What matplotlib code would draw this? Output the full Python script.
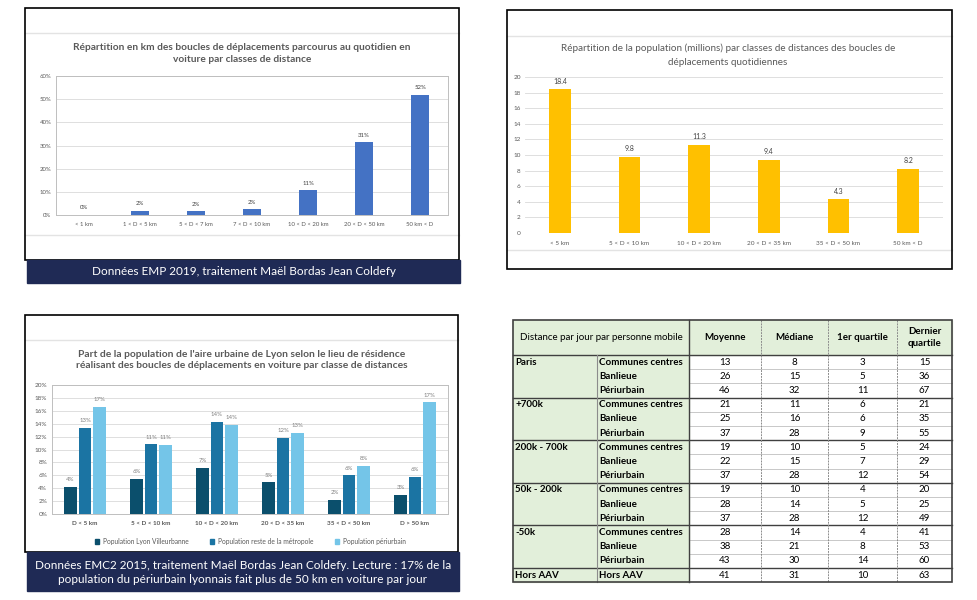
import matplotlib
matplotlib.use("Agg")
import matplotlib.pyplot as plt
from matplotlib.patches import Rectangle, Patch
import numpy as np

plt.rcParams['font.family'] = ['Lato', 'DejaVu Sans']

# ---- données graphique 1 (EMP 2019, % des boucles en voiture)
cat1 = ['< 1 km', '1 < D < 5 km', '5 < D < 7 km', '7 < D < 10 km',
        '10 < D < 20 km', '20 < D < 50 km', '50 km < D']
val1 = [0.2, 1.8, 1.6, 2.4, 10.6, 31.3, 52.0]

# ---- données graphique 2 (population, millions)
cat2 = ['< 5 km', '5 < D < 10 km', '10 < D < 20 km', '20 < D < 35 km',
        '35 < D < 50 km', '50 km < D']
val2 = [18.4, 9.8, 11.3, 9.4, 4.3, 8.2]

# ---- données graphique 3 (EMC2 Lyon, %)
cat3 = ['D < 5 km', '5 < D < 10 km', '10 < D < 20 km', '20 < D < 35 km',
        '35 < D < 50 km', 'D > 50 km']
series3 = ['Population Lyon Villeurbanne', 'Population reste de la métropole',
           'Population périurbain']
lyon_vill = [4.2, 5.5, 7.2, 4.9, 2.2, 3.0]
reste_metro = [13.4, 10.8, 14.3, 11.8, 6.0, 5.8]
periurbain = [16.6, 10.7, 13.8, 12.6, 7.5, 17.3]

# ---- données tableau (km par jour par personne mobile)
groupes = ['Paris', '+700k', '200k - 700k', '50k - 200k', '-50k', 'Hors AAV']
zones = ['Communes centres', 'Banlieue', 'Périurbain']
col_noms = ['Moyenne', 'Médiane', '1er quartile', 'Dernier\nquartile']
moyenne = [13, 26, 46, 21, 25, 37, 19, 22, 37, 19, 28, 37, 28, 38, 43, 41]
mediane = [8, 15, 32, 11, 16, 28, 10, 15, 28, 10, 14, 28, 14, 21, 30, 31]
quartile1 = [3, 5, 11, 6, 6, 9, 5, 7, 12, 4, 5, 12, 4, 8, 14, 10]
quartile4 = [15, 36, 67, 21, 35, 55, 24, 29, 54, 20, 25, 49, 41, 53, 60, 63]

W, H = 978, 600
NAVY = '#1f2a55'
GRIS = '#595959'


def box(x0, y0, x1, y1):
    return [x0 / W, 1 - y1 / H, (x1 - x0) / W, (y1 - y0) / H]


fig = plt.figure(figsize=(W / 100, H / 100), dpi=100)
bg = fig.add_axes([0, 0, 1, 1])
bg.set_xlim(0, W)
bg.set_ylim(H, 0)
bg.axis('off')


def cadre(x0, y0, x1, y1, lignes):
    bg.add_patch(Rectangle((x0, y0), x1 - x0, y1 - y0, fill=False,
                           ec='black', lw=1.2, zorder=3))
    for y in lignes:
        bg.plot([x0, x1], [y, y], color='#e3e3e3', lw=1, zorder=2)


def style_axe(ax, spines=True):
    ax.tick_params(length=0, labelsize=4.3, labelcolor=GRIS)
    ax.set_axisbelow(True)
    ax.grid(axis='y', color='#d9d9d9', lw=0.6)
    for s in ax.spines.values():
        s.set_visible(spines)
        s.set_color('#bfbfbf')
        s.set_linewidth(0.7)


# ======= graphique 1
cadre(25, 8, 459, 260, [33, 235])
bg.add_patch(Rectangle((27, 260), 433, 23, color=NAVY, zorder=3))
bg.text(243.5, 271.5, 'Données EMP 2019, traitement Maël Bordas Jean Coldefy',
        color='white', fontsize=8.5, ha='center', va='center', zorder=4)
bg.text(242, 53.5, 'Répartition en km des boucles de déplacements parcourus au quotidien en\n'
        'voiture par classes de distance', color=GRIS, fontsize=7.3, fontweight='bold',
        ha='center', va='center', linespacing=1.3)

ax1 = fig.add_axes(box(56, 76, 448, 215))
x1 = np.arange(len(cat1))
ax1.bar(x1, val1, width=0.32, color='#4472c4')
ax1.set_xlim(-0.5, len(cat1) - 0.5)
ax1.set_ylim(0, 60)
ax1.set_yticks(range(0, 61, 10))
ax1.set_yticklabels([f'{v}%' for v in range(0, 61, 10)])
ax1.set_xticks(x1)
ax1.set_xticklabels(cat1)
style_axe(ax1)
ax1.tick_params(axis='x', pad=5)
for xi, v in zip(x1, val1):
    ax1.annotate(f'{v:.0f}%', (xi, v), xytext=(0, 4), textcoords='offset points',
                 ha='center', fontsize=4.3, color='#404040')

# ======= graphique 2
cadre(507, 10, 952, 269, [36, 250])
bg.text(728, 55.5, 'Répartition de la population (millions) par classes de distances des boucles de\n'
        'déplacements quotidiennes', color=GRIS, fontsize=7.1,
        ha='center', va='center', linespacing=1.75)

ax2 = fig.add_axes(box(525, 77, 943, 233))
x2 = np.arange(len(cat2))
ax2.bar(x2, val2, width=0.31, color='#ffc000')
ax2.set_xlim(-0.5, len(cat2) - 0.5)
ax2.set_ylim(0, 20)
ax2.set_yticks(range(0, 21, 2))
ax2.set_xticks(x2)
ax2.set_xticklabels(cat2)
style_axe(ax2, spines=False)
ax2.tick_params(axis='y', pad=3, labelsize=4.6)
ax2.tick_params(axis='x', pad=6, labelsize=4.6)
for xi, v in zip(x2, val2):
    ax2.annotate(f'{v:.1f}', (xi, v), xytext=(0, 4), textcoords='offset points',
                 ha='center', fontsize=5, color='#404040')

# ======= graphique 3
cadre(25, 315, 458, 552, [340])
bg.add_patch(Rectangle((27, 552), 432, 39, color=NAVY, zorder=3))
bg.text(243, 572.5, 'Données EMC2 2015, traitement Maël Bordas Jean Coldefy. Lecture : 17% de la\n'
        'population du périurbain lyonnais fait plus de 50 km en voiture par jour',
        color='white', fontsize=8.45, ha='center', va='center', linespacing=1.3, zorder=4)
bg.text(242, 360, "Part de la population de l'aire urbaine de Lyon selon le lieu de résidence\n"
        'réalisant des boucles de déplacements en voiture par classe de distances',
        color=GRIS, fontsize=7.4, fontweight='bold', ha='center', va='center', linespacing=1.4)

ax3 = fig.add_axes(box(52, 385, 448, 514))
x3 = np.arange(len(cat3))
couleurs3 = ['#0b4f6c', '#1b74a3', '#74c5e8']
bw = 0.19
for k, (serie, vals) in enumerate(zip(series3, [lyon_vill, reste_metro, periurbain])):
    xs = x3 + (k - 1) * (bw + 0.03)
    ax3.bar(xs, vals, width=bw, color=couleurs3[k], label=serie)
    for xi, v in zip(xs, vals):
        ax3.annotate(f'{v:.0f}%', (xi, v), xytext=(0, 4), textcoords='offset points',
                     ha='center', fontsize=4.3, color='#7f7f7f')
ax3.set_xlim(-0.5, len(cat3) - 0.5)
ax3.set_ylim(0, 20)
ax3.set_yticks(range(0, 21, 2))
ax3.set_yticklabels([f'{v}%' for v in range(0, 21, 2)])
ax3.set_xticks(x3)
ax3.set_xticklabels(cat3, fontweight='bold')
style_axe(ax3)
ax3.tick_params(axis='x', pad=5, labelsize=4.6)
ax3.tick_params(axis='y', labelsize=4.6)
handles = [Patch(color=c) for c in couleurs3]
ax3.legend(handles, series3, loc='upper center', bbox_to_anchor=(0.5, -0.14), ncol=3,
           frameon=False, fontsize=4.8, handlelength=0.7, handleheight=0.7,
           handletextpad=0.5, columnspacing=3.2, labelcolor=GRIS)

# ======= tableau
xs_col = [513, 597, 689, 761, 828, 897, 952]
y_haut, y_entete, y_bas = 320, 355, 582
n_lignes = len(moyenne)
h_ligne = 14.2
tops = [y_entete + i * h_ligne for i in range(n_lignes)] + [y_bas]
VERT = '#e2efda'
FONCE = '#404040'

bg.add_patch(Rectangle((xs_col[0], y_haut), xs_col[-1] - xs_col[0], y_entete - y_haut,
                       color=VERT, zorder=1))
bg.add_patch(Rectangle((xs_col[0], y_entete), xs_col[2] - xs_col[0], y_bas - y_entete,
                       color=VERT, zorder=1))
# lignes fines à l'intérieur des groupes
for i in range(1, n_lignes):
    if i % 3 != 0:
        bg.plot([xs_col[2], xs_col[-1]], [tops[i], tops[i]], color='#c8c8c8', lw=0.7, zorder=2)
# séparations de groupes
for i in range(0, n_lignes, 3):
    bg.plot([xs_col[0], xs_col[-1]], [tops[i], tops[i]], color=FONCE, lw=1, zorder=3)
# verticales
bg.plot([xs_col[1], xs_col[1]], [y_entete, y_bas], color='#8c8c8c', lw=0.8, zorder=3)
bg.plot([xs_col[2], xs_col[2]], [y_haut, y_bas], color=FONCE, lw=1, zorder=3)
for xc in xs_col[3:6]:
    bg.plot([xc, xc], [y_haut, y_bas], color='#8c8c8c', lw=0.7, ls=(0, (2, 1)), zorder=3)
bg.add_patch(Rectangle((xs_col[0], y_haut), xs_col[-1] - xs_col[0], y_bas - y_haut,
                       fill=False, ec=FONCE, lw=1.2, zorder=4))

# en-tête
bg.text((xs_col[0] + xs_col[2]) / 2, (y_haut + y_entete) / 2,
        'Distance par jour par personne mobile', fontsize=7, ha='center', va='center',
        color='black')
for j, nom in enumerate(col_noms):
    bg.text((xs_col[j + 2] + xs_col[j + 3]) / 2, (y_haut + y_entete) / 2, nom,
            fontsize=7, fontweight='bold', ha='center', va='center', color='black',
            linespacing=1.3)

colonnes = [moyenne, mediane, quartile1, quartile4]
for i in range(n_lignes):
    yc = (tops[i] + tops[i + 1]) / 2
    g = i // 3
    if i % 3 == 0:
        bg.text(xs_col[0] + 2, yc, groupes[g], fontsize=7, fontweight='bold',
                va='center', color='black')
    zone = 'Hors AAV' if g == len(groupes) - 1 else zones[i % 3]
    bg.text(xs_col[1] + 2, yc, zone, fontsize=7, fontweight='bold', va='center', color='black')
    for j, col in enumerate(colonnes):
        bg.text((xs_col[j + 2] + xs_col[j + 3]) / 2, yc, str(col[i]), fontsize=7,
                ha='center', va='center', color='black')

fig.savefig('out.png', dpi=100)
